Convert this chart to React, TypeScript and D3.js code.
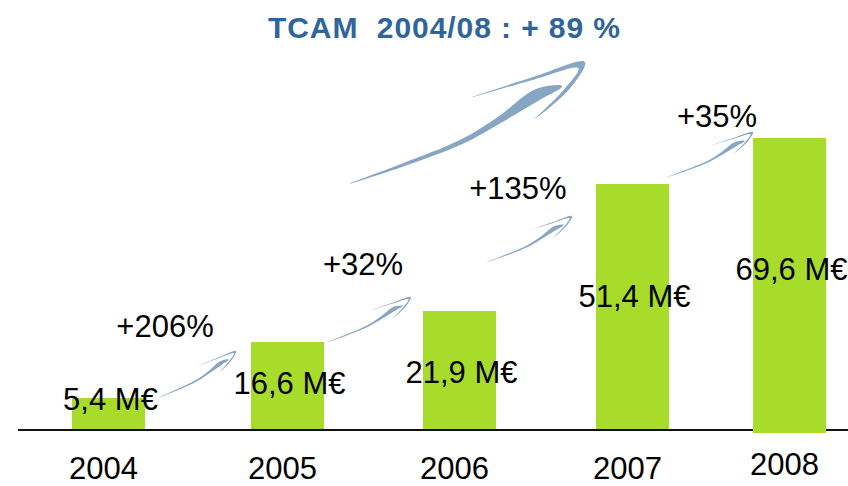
import React from 'react';
import * as d3 from 'd3';

const years = ['2004', '2005', '2006', '2007', '2008'];
const revenueLabels = ['5,4 M€', '16,6 M€', '21,9 M€', '51,4 M€', '69,6 M€'];
// bar heights as drawn (pictorial, not to scale), in chart level units
const barLevels = [31, 87, 118, 245, 291];
const barBottoms = [0, 0, 0, 0, -4];
const revenueLabelLevels = [19, 35, 46, 122, 149];
const growthLabels = ['+206%', '+32%', '+135%', '+35%'];
const growthFrom: [number, number][] = [[0.288, 32], [1.23, 87], [2.159, 167], [3.22, 252]];
const growthTo: [number, number][] = [[0.712, 78], [1.717, 132], [2.65, 213], [3.767, 297]];
const growthLabelPos: [number, number][] = [[0.316, 92], [1.439, 154], [2.338, 230], [3.538, 302]];
const titleText = 'TCAM  2004/08 : + 89 %';
const titlePos: [number, number] = [1.91, 391];
const bigFrom: [number, number] = [1.363, 246];
const bigTo: [number, number] = [2.725, 367];

const W = 848;
const H = 486;
const FONT = '"Liberation Sans", Arial, Helvetica, sans-serif';
const GREEN = '#A8DC2B';
const ARROW = '#87A6C4';
const TITLE = '#30659B';

const x = d3.scaleLinear().domain([0, 1, 2, 3, 4]).range([108.5, 287.5, 459.5, 632.5, 789.5]);
const y = d3.scaleLinear().domain([0, 300]).range([429, 129]);
const barW = 73;

const bodyShape: [number, number][] = [
  [0, 0], [0.2, 0.024], [0.45, 0.046], [0.62, 0.033], [0.76, 0.006], [0.82, 0.012], [0.88, 0.038],
  [0.88, 0.044], [0.78, 0.05], [0.6, 0.06], [0.45, 0.064], [0.2, 0.036], [0, 0.003],
];
const hookShape: [number, number][] = [
  [0.56, -0.078], [0.8, -0.039], [1, 0], [0.9, 0.065], [0.73, 0.105],
  [0.88, 0.057], [0.967, 0.01], [0.8, -0.029], [0.56, -0.076],
];

const line = d3.line<[number, number]>().curve(d3.curveCatmullRom.alpha(0.5));

function swoosh(from: [number, number], to: [number, number]) {
  const S = [x(from[0]), y(from[1])];
  const T = [x(to[0]), y(to[1])];
  const dx = T[0] - S[0];
  const dy = T[1] - S[1];
  const map = ([a, b]: [number, number]): [number, number] => [
    S[0] + a * dx - b * dy,
    S[1] + a * dy + b * dx,
  ];
  return [line(bodyShape.map(map)) + 'Z', line(hookShape.map(map)) + 'Z'];
}

export default function App() {
  const arrows = growthFrom.map((f, i) => swoosh(f, growthTo[i]));
  const big = swoosh(bigFrom, bigTo);
  return (
    <svg width={W} height={H} style={{ position: 'absolute', left: 0, top: 0, background: '#fff' }}
      fontFamily={FONT}>
      <line x1={18} x2={W} y1={y(0) + 1} y2={y(0) + 1} stroke="#111" strokeWidth={2} />
      {years.map((yr, i) => (
        <rect key={yr} x={x(i) - barW / 2} width={barW} y={y(barLevels[i])}
          height={y(barBottoms[i]) - y(barLevels[i])} fill={GREEN} />
      ))}
      {years.map((yr, i) => (
        <text key={'y' + yr} x={x(i) - 5} y={i === 4 ? 475 : 479} textAnchor="middle" fontSize={31} fill="#000">{yr}</text>
      ))}
      {revenueLabels.map((t, i) => (
        <text key={'v' + i} x={x(i) + 2} y={y(revenueLabelLevels[i])} textAnchor="middle" fontSize={31} fill="#000">{t}</text>
      ))}
      {arrows.map((p, i) => (
        <g key={'a' + i} fill={ARROW}>
          <path d={p[0]} />
          <path d={p[1]} />
        </g>
      ))}
      <g fill={ARROW}>
        <path d={big[0]} />
        <path d={big[1]} />
      </g>
      {growthLabels.map((t, i) => (
        <text key={'g' + i} x={x(growthLabelPos[i][0])} y={y(growthLabelPos[i][1])} textAnchor="middle" fontSize={31} fill="#000">{t}</text>
      ))}
      <text x={x(titlePos[0])} y={y(titlePos[1])} textAnchor="middle" fontSize={30} fontWeight="bold"
        fill={TITLE} style={{ whiteSpace: 'pre' }} textLength={352} lengthAdjust="spacing">{titleText}</text>
    </svg>
  );
}
